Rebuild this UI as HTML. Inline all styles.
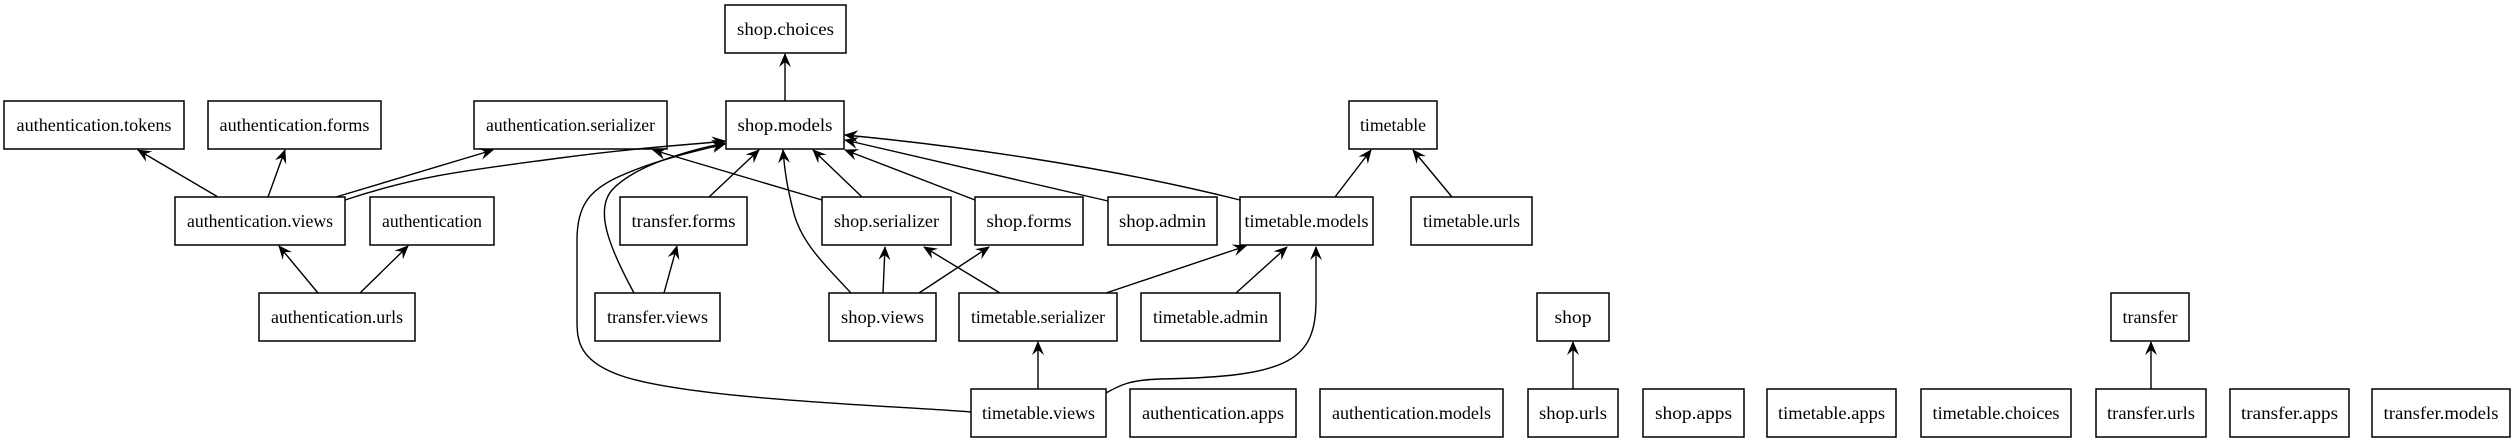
<!DOCTYPE html>
<html><head><meta charset="utf-8"><style>
html,body{margin:0;padding:0;background:#fff;}
svg{display:block;}
text{font-family:"Liberation Serif",serif;font-size:18px;fill:#000;}
</style></head><body>
<svg width="2515" height="443" viewBox="0 0 2515 443" xmlns="http://www.w3.org/2000/svg">
<defs>
<marker id="a" viewBox="0 0 14 12" refX="13" refY="6" markerWidth="14" markerHeight="12" markerUnits="userSpaceOnUse" orient="auto">
<path d="M0,0 L14,6 L0,12 L5,6 Z" fill="#000"/>
</marker>
</defs>
<g fill="#fff" stroke="#000" stroke-width="1.5">
<rect x="725" y="5" width="121" height="48"/>
<rect x="4" y="101" width="180" height="48"/>
<rect x="208" y="101" width="173" height="48"/>
<rect x="474" y="101" width="193" height="48"/>
<rect x="726" y="101" width="118" height="48"/>
<rect x="1349" y="101" width="88" height="48"/>
<rect x="175" y="197" width="170" height="48"/>
<rect x="370" y="197" width="124" height="48"/>
<rect x="620" y="197" width="127" height="48"/>
<rect x="822" y="197" width="129" height="48"/>
<rect x="975" y="197" width="108" height="48"/>
<rect x="1108" y="197" width="109" height="48"/>
<rect x="1240" y="197" width="133" height="48"/>
<rect x="1411" y="197" width="121" height="48"/>
<rect x="259" y="293" width="156" height="48"/>
<rect x="595" y="293" width="125" height="48"/>
<rect x="829" y="293" width="107" height="48"/>
<rect x="959" y="293" width="158" height="48"/>
<rect x="1141" y="293" width="139" height="48"/>
<rect x="1537" y="293" width="72" height="48"/>
<rect x="2111" y="293" width="78" height="48"/>
<rect x="971" y="389" width="135" height="48"/>
<rect x="1130" y="389" width="166" height="48"/>
<rect x="1320" y="389" width="183" height="48"/>
<rect x="1528" y="389" width="90" height="48"/>
<rect x="1643" y="389" width="101" height="48"/>
<rect x="1767" y="389" width="129" height="48"/>
<rect x="1921" y="389" width="150" height="48"/>
<rect x="2096" y="389" width="110" height="48"/>
<rect x="2230" y="389" width="119" height="48"/>
<rect x="2372" y="389" width="138" height="48"/>
</g>
<g text-anchor="middle" lengthAdjust="spacingAndGlyphs">
<text x="785.5" y="35" textLength="97" lengthAdjust="spacingAndGlyphs">shop.choices</text>
<text x="94" y="131" textLength="155" lengthAdjust="spacingAndGlyphs">authentication.tokens</text>
<text x="294.5" y="131" textLength="150" lengthAdjust="spacingAndGlyphs">authentication.forms</text>
<text x="570.5" y="131" textLength="169" lengthAdjust="spacingAndGlyphs">authentication.serializer</text>
<text x="785" y="131" textLength="95" lengthAdjust="spacingAndGlyphs">shop.models</text>
<text x="1393" y="131" textLength="66" lengthAdjust="spacingAndGlyphs">timetable</text>
<text x="260" y="227" textLength="146" lengthAdjust="spacingAndGlyphs">authentication.views</text>
<text x="432" y="227" textLength="100" lengthAdjust="spacingAndGlyphs">authentication</text>
<text x="683.5" y="227" textLength="104" lengthAdjust="spacingAndGlyphs">transfer.forms</text>
<text x="886.5" y="227" textLength="105" lengthAdjust="spacingAndGlyphs">shop.serializer</text>
<text x="1029" y="227" textLength="85" lengthAdjust="spacingAndGlyphs">shop.forms</text>
<text x="1162.5" y="227" textLength="87" lengthAdjust="spacingAndGlyphs">shop.admin</text>
<text x="1306.5" y="227" textLength="124" lengthAdjust="spacingAndGlyphs">timetable.models</text>
<text x="1471.5" y="227" textLength="97" lengthAdjust="spacingAndGlyphs">timetable.urls</text>
<text x="337" y="323" textLength="132" lengthAdjust="spacingAndGlyphs">authentication.urls</text>
<text x="657.5" y="323" textLength="101" lengthAdjust="spacingAndGlyphs">transfer.views</text>
<text x="882.5" y="323" textLength="83" lengthAdjust="spacingAndGlyphs">shop.views</text>
<text x="1038" y="323" textLength="134" lengthAdjust="spacingAndGlyphs">timetable.serializer</text>
<text x="1210.5" y="323" textLength="115" lengthAdjust="spacingAndGlyphs">timetable.admin</text>
<text x="1573" y="323" textLength="37" lengthAdjust="spacingAndGlyphs">shop</text>
<text x="2150" y="323" textLength="55" lengthAdjust="spacingAndGlyphs">transfer</text>
<text x="1038.5" y="419" textLength="113" lengthAdjust="spacingAndGlyphs">timetable.views</text>
<text x="1213" y="419" textLength="142" lengthAdjust="spacingAndGlyphs">authentication.apps</text>
<text x="1411.5" y="419" textLength="159" lengthAdjust="spacingAndGlyphs">authentication.models</text>
<text x="1573" y="419" textLength="68" lengthAdjust="spacingAndGlyphs">shop.urls</text>
<text x="1693.5" y="419" textLength="77" lengthAdjust="spacingAndGlyphs">shop.apps</text>
<text x="1831.5" y="419" textLength="107" lengthAdjust="spacingAndGlyphs">timetable.apps</text>
<text x="1996" y="419" textLength="127" lengthAdjust="spacingAndGlyphs">timetable.choices</text>
<text x="2151" y="419" textLength="88" lengthAdjust="spacingAndGlyphs">transfer.urls</text>
<text x="2289.5" y="419" textLength="97" lengthAdjust="spacingAndGlyphs">transfer.apps</text>
<text x="2441" y="419" textLength="115" lengthAdjust="spacingAndGlyphs">transfer.models</text>
</g>
<g fill="none" stroke="#000" stroke-width="1.4" marker-end="url(#a)">
<path d="M785,101 L785,54"/>
<path d="M218,197 L138,150"/>
<path d="M268,197 L285,150"/>
<path d="M336,197 L493,150"/>
<path d="M345,200 C420,175 470,170 560,158 C640,147 690,145 725,141"/>
<path d="M318,293 L279,246"/>
<path d="M360,293 L408,246"/>
<path d="M709,197 L759,150"/>
<path d="M664,293 L677,246"/>
<path d="M634,293 C608,245 595,210 612,190 C635,165 690,150 725,143"/>
<path d="M971,412 C900,406 700,400 625,377 C578,362 577,340 577,320 L577,240 C577,205 590,190 618,177 C655,160 700,150 725,144"/>
<path d="M1038,389 L1038,342"/>
<path d="M1106,393 C1120,385 1130,380 1160,379 C1290,377 1316,360 1316,300 L1316,247"/>
<path d="M822,200 L653,150"/>
<path d="M862,197 L813,150"/>
<path d="M975,200 L845,150"/>
<path d="M1108,201 L845,140"/>
<path d="M1240,200 C1100,165 950,145 845,135"/>
<path d="M1335,197 L1371,150"/>
<path d="M1452,197 L1413,150"/>
<path d="M851,293 C820,260 800,240 793,210 C788,190 785,175 783,150"/>
<path d="M883,293 L885,247"/>
<path d="M919,293 L989,247"/>
<path d="M1000,293 L924,247"/>
<path d="M1106,293 L1246,246"/>
<path d="M1236,293 L1287,247"/>
<path d="M1573,389 L1573,342"/>
<path d="M2151,389 L2151,342"/>
</g>
</svg>
</body></html>
